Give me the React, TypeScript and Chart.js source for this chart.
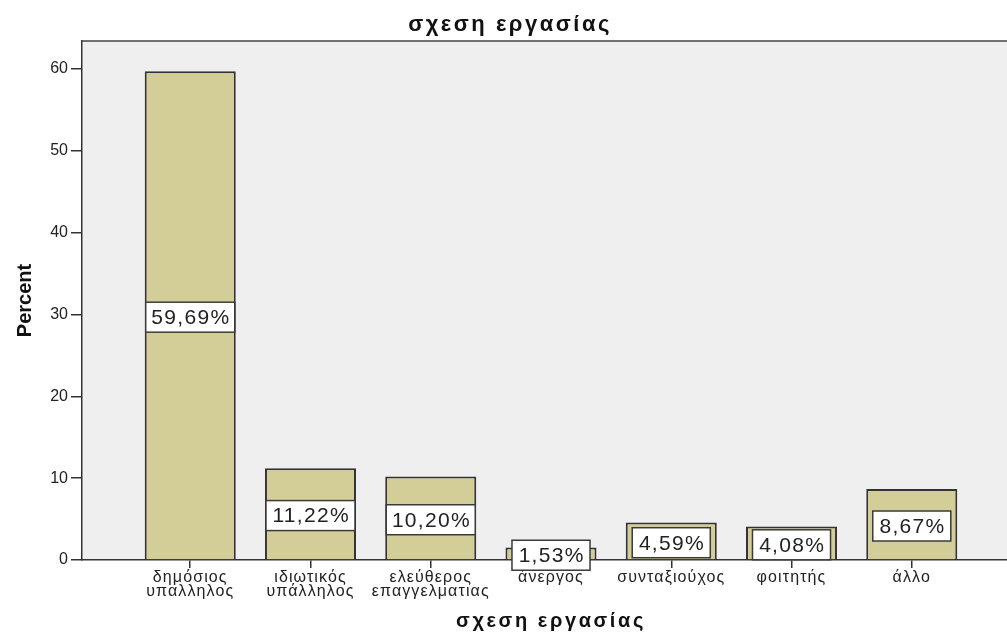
import React, { useEffect, useRef } from "react";
import { Chart, registerables } from "chart.js";

Chart.register(...registerables);

const categories: (string | string[])[] = [
  ["δημόσιος", "υπαλληλος"],
  ["ιδιωτικός", "υπάλληλος"],
  ["ελεύθερος", "επαγγελματιας"],
  "άνεργος",
  "συνταξιούχος",
  "φοιτητής",
  "άλλο",
];
const percents = [59.69, 11.22, 10.2, 1.53, 4.59, 4.08, 8.67];
const yTickValues = [0, 10, 20, 30, 40, 50, 60];
const chartTitle = "σχεση εργασίας";
const xAxisTitle = "σχεση εργασίας";
const yAxisTitle = "Percent";

const FONT = '"Liberation Sans", Arial, sans-serif';
const fmt = (v: number) => v.toFixed(2).replace(".", ",") + "%";

const plotFrame = {
  id: "plotFrame",
  beforeDraw(chart: any) {
    const { ctx, chartArea } = chart;
    ctx.save();
    ctx.fillStyle = "#efefef";
    ctx.fillRect(chartArea.left, chartArea.top, chartArea.right - chartArea.left, chartArea.bottom - chartArea.top);
    ctx.restore();
  },
  afterDraw(chart: any) {
    const { ctx, chartArea } = chart;
    ctx.save();
    ctx.strokeStyle = "#444";
    ctx.lineWidth = 1.5;
    ctx.beginPath();
    ctx.moveTo(chartArea.left, chartArea.top);
    ctx.lineTo(chartArea.right, chartArea.top);
    ctx.stroke();
    ctx.restore();
  },
};

// SPSS-like wide text: apply letter spacing to specific text-drawing parts
const textSpacing = {
  id: "textSpacing",
  afterLayout(chart: any) {
    const wrap = (obj: any, name: string, sp: string) => {
      if (!obj || obj["__wrapped_" + name]) return;
      const orig = obj[name];
      obj[name] = function (...args: any[]) {
        const ctx = chart.ctx;
        const prev = ctx.letterSpacing;
        ctx.letterSpacing = sp;
        try {
          return orig.apply(this, args);
        } finally {
          ctx.letterSpacing = prev;
        }
      };
      obj["__wrapped_" + name] = true;
    };
    wrap(chart.scales.x, "drawLabels", "1.1px");
    wrap(chart.scales.x, "drawTitle", "2.6px");
    wrap(chart.titleBlock, "draw", "2.5px");
  },
};

const valueLabels = {
  id: "valueLabels",
  afterDatasetsDraw(chart: any) {
    const { ctx } = chart;
    const yScale = chart.scales.y;
    const meta = chart.getDatasetMeta(0);
    ctx.save();
    ctx.font = "21px " + FONT;
    ctx.letterSpacing = "1.3px";
    ctx.textAlign = "center";
    ctx.textBaseline = "middle";
    meta.data.forEach((bar: any, i: number) => {
      const v = percents[i];
      const text = fmt(v);
      const cy = yScale.getPixelForValue(v / 2) + 1.5;
      let w = ctx.measureText(text).width + 12;
      w = Math.min(w, bar.width - 2);
      const h = 30;
      ctx.fillStyle = "#ffffff";
      ctx.fillRect(bar.x - w / 2, cy - h / 2, w, h);
      ctx.strokeStyle = "#3a3a3a";
      ctx.lineWidth = 1.5;
      ctx.strokeRect(bar.x - w / 2, cy - h / 2, w, h);
      ctx.fillStyle = "#222";
      ctx.fillText(text, bar.x + 0.65, cy + 1);
    });
    ctx.restore();
  },
};

export default function App() {
  const ref = useRef<HTMLCanvasElement | null>(null);
  useEffect(() => {
    if (!ref.current) return;
    const chart = new Chart(ref.current, {
      type: "bar",
      data: {
        datasets: [
          {
            data: percents.map((v, i) => ({ x: i, y: v })),
            backgroundColor: "#d3ce97",
            borderColor: "#333",
            borderWidth: 2,
            barPercentage: 0.757,
            categoryPercentage: 1,
          },
        ],
      },
      options: {
        animation: false,
        responsive: false,
        devicePixelRatio: 1,
        layout: { padding: 0 },
        plugins: {
          legend: { display: false },
          tooltip: { enabled: false },
          title: {
            display: true,
            text: chartTitle,
            color: "#111",
            font: { family: FONT, size: 22, weight: "bold" },
            padding: { top: 12, bottom: 2.6 },
          },
        },
        scales: {
          x: {
            type: "linear",
            min: -0.9,
            max: 6.9,
            offset: false,
            afterBuildTicks: (scale: any) => {
              scale.ticks = categories.map((_, i) => ({ value: i }));
            },
            afterFit: (scale: any) => {
              scale.height = 75;
            },
            ticks: {
              autoSkip: false,
              maxRotation: 0,
              minRotation: 0,
              padding: 3,
              color: "#222",
              font: { family: FONT, size: 16, lineHeight: "14px" },
              callback: (value: any) => categories[value as number],
            },
            grid: {
              offset: false,
              drawOnChartArea: false,
              drawTicks: true,
              tickLength: 8,
              color: "#333",
              lineWidth: 1.5,
            },
            border: { display: true, color: "#333", width: 1.5 },
            title: {
              display: true,
              text: xAxisTitle,
              color: "#111",
              font: { family: FONT, size: 20, weight: "bold" },
              padding: { top: 0, bottom: 2 },
            },
          },
          y: {
            type: "linear",
            min: 0,
            max: 63.4,
            afterBuildTicks: (scale: any) => {
              scale.ticks = yTickValues.map((v) => ({ value: v }));
            },
            afterFit: (scale: any) => {
              scale.width = 82;
            },
            ticks: {
              padding: 3,
              color: "#222",
              font: { family: FONT, size: 16 },
            },
            grid: {
              drawOnChartArea: false,
              drawTicks: true,
              tickLength: 11,
              color: "#333",
              lineWidth: 1.5,
            },
            border: { display: true, color: "#333", width: 1.5 },
            title: {
              display: true,
              text: yAxisTitle,
              color: "#111",
              font: { family: FONT, size: 20, weight: "bold" },
              padding: { top: 13, bottom: 0 },
            },
          },
        },
      },
      plugins: [plotFrame, textSpacing, valueLabels],
    } as any);
    chart.update();
    return () => chart.destroy();
  }, []);
  return (
    <div style={{ position: "fixed", left: 0, top: 0, width: 1007, height: 635, overflow: "hidden", background: "#fff" }}>
      <canvas ref={ref} width={1020} height={635} style={{ display: "block" }} />
    </div>
  );
}
